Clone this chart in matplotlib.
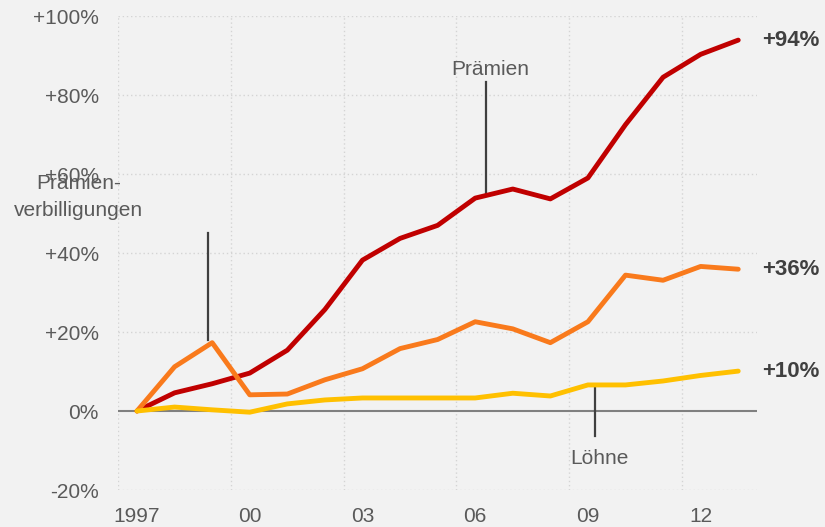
import matplotlib
matplotlib.use("Agg")
import matplotlib.pyplot as plt

years = list(range(1997, 2014))
praemien = [0, 4.6, 6.9, 9.6, 15.4, 25.7, 38.2, 43.7, 47.0, 53.9, 56.2, 53.7, 59.0, 72.5, 84.5, 90.3, 93.9]
verbilligungen = [0, 11.2, 17.3, 4.1, 4.3, 7.9, 10.7, 15.8, 18.1, 22.6, 20.8, 17.3, 22.6, 34.4, 33.1, 36.6, 35.9]
loehne = [0, 1.0, 0.3, -0.3, 1.8, 2.8, 3.3, 3.3, 3.3, 3.3, 4.5, 3.8, 6.6, 6.6, 7.6, 9.0, 10.1]
end_labels = ["+94%", "+36%", "+10%"]
yticks = [-20, 0, 20, 40, 60, 80, 100]
ytick_labels = ["-20%", "0%", "+20%", "+40%", "+60%", "+80%", "+100%"]
xticks = [1997, 2000, 2003, 2006, 2009, 2012]
xtick_labels = ["1997", "00", "03", "06", "09", "12"]
vgrid = [1996.5, 1999.5, 2002.5, 2005.5, 2008.5, 2011.5]

plt.rcParams['font.family'] = ['Liberation Sans', 'DejaVu Sans']
bg = "#f2f2f2"
txt_c = "#5a5a5a"
fs = 15
fig = plt.figure(figsize=(8.25, 5.27), dpi=100, facecolor=bg)
ax = fig.add_axes([0.1433, 0.0702, 0.7743, 0.8994], facecolor=bg)
ax.set_xlim(1996.5, 2013.5)
ax.set_ylim(-20, 100)
for s in ax.spines.values():
    s.set_visible(False)

grid_c = "#d4d4d4"
for y in yticks:
    if y != 0:
        ax.axhline(y, color=grid_c, lw=1, ls=(0, (1, 2)), zorder=1)
for x in vgrid:
    ax.axvline(x, color=grid_c, lw=1, ls=(0, (1, 2)), zorder=1)
ax.axhline(0, color="#808080", lw=1.5, zorder=2)

ax.set_yticks(yticks)
ax.set_yticklabels(ytick_labels)
ax.set_xticks(xticks)
ax.set_xticklabels(xtick_labels)
ax.tick_params(axis='y', length=0, pad=14, labelsize=fs, labelcolor=txt_c)
ax.tick_params(axis='x', length=0, pad=12, labelsize=fs, labelcolor=txt_c)

colors = ["#c00000", "#f97a1c", "#ffc000"]
series = [praemien, verbilligungen, loehne]
for data, c in zip(series, colors):
    ax.plot(years, data, color=c, lw=3.5, solid_capstyle='round', solid_joinstyle='round', zorder=4, clip_on=False)
for data, lab in zip(series, end_labels):
    ax.annotate(lab, xy=(years[-1], data[-1]), xytext=(17, 0), textcoords='offset points',
                ha='left', va='center', fontsize=16, fontweight='bold', color="#404040", annotation_clip=False)

ann_c = "#404040"
# Prämien
ax.plot([2006.3, 2006.3], [55.0, 83.2], color=ann_c, lw=1.6, zorder=3)
ax.text(2006.4, 85, "Prämien", ha='center', va='baseline', fontsize=fs, color=txt_c)
# Prämienverbilligungen
ax.plot([1998.9, 1998.9], [18, 45], color=ann_c, lw=1.6, zorder=3)
ax.text(1995.45, 56.2, "Prämien-", ha='center', va='baseline', fontsize=fs, color=txt_c, clip_on=False)
ax.text(1995.45, 49.4, "verbilligungen", ha='center', va='baseline', fontsize=fs, color=txt_c, clip_on=False)
# Löhne
ax.plot([2009.2, 2009.2], [5.9, -6.4], color=ann_c, lw=1.6, zorder=3)
ax.text(2009.3, -13.3, "Löhne", ha='center', va='baseline', fontsize=fs, color=txt_c)

fig.savefig("out.png", dpi=100, facecolor=bg)
